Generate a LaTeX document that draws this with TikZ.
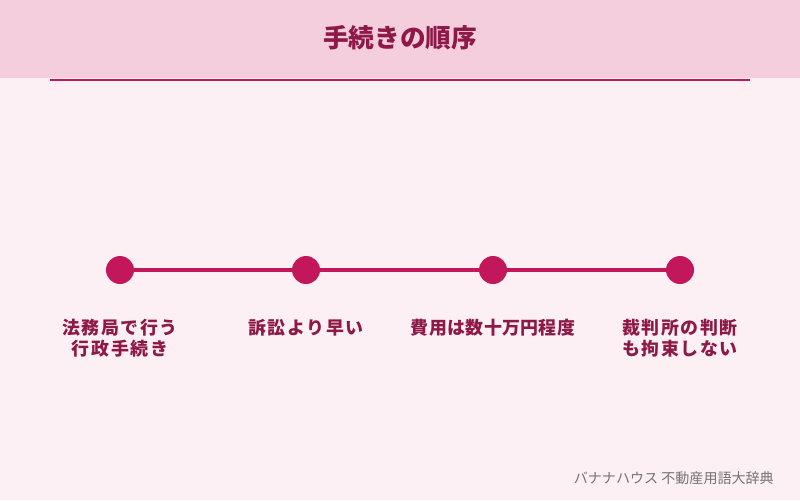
\documentclass[tikz,border=0pt]{standalone}
\usepackage{fontspec}
\setmainfont{Noto Sans CJK JP}
\XeTeXlinebreaklocale "ja"
\XeTeXlinebreakskip=0pt plus 1pt
\usetikzlibrary{positioning}
\definecolor{bgpink}{HTML}{FDF0F4}
\definecolor{headpink}{HTML}{F5CEDD}
\definecolor{deepmag}{HTML}{C2185B}
\definecolor{darkmag}{HTML}{8E1846}
\tikzset{
    step dot/.style={circle,fill=deepmag,minimum size=0.56cm,inner sep=0pt},
    step label/.style={font=\bfseries\fontsize{10.2}{12}\selectfont,text=darkmag,align=center,text width=3.6cm},
    link/.style={deepmag,line width=2.3pt},
}
\begin{document}
\begin{tikzpicture}[x=0.02cm,y=-0.02cm]
        \fill[bgpink] (0,0) rectangle (800,500);
        \fill[headpink] (0,0) rectangle (800,78);
        \useasboundingbox (0,0) rectangle (800,500);
        \node[font=\bfseries\fontsize{14.6}{16}\selectfont,text=darkmag] (title) at (400,38) {手続きの順序};
        \draw[deepmag,line width=1pt] (50,80) -- (750,80);

        \foreach \i/\x in {1/120,2/306,3/493,4/680}
            \node[step dot] (d\i) at (\x,270) {};
        \draw[link] (d1) -- (d2);
        \draw[link] (d2) -- (d3);
        \draw[link] (d3) -- (d4);

        \node[step label,anchor=north] (l1) at (120,313) {法務局で行う行政手続き};
        \node[step label,anchor=north] (l2) at (306,313) {訴訟より早い};
        \node[step label,anchor=north] (l3) at (493,313) {費用は数十万円程度};
        \node[step label,anchor=north] (l4) at (680,313) {裁判所の判断も拘束しない};

        \node[font=\fontsize{8}{9}\selectfont,text=black!55,anchor=east] (credit) at (780,478) {バナナハウス 不動産用語大辞典};
\end{tikzpicture}
\end{document}
